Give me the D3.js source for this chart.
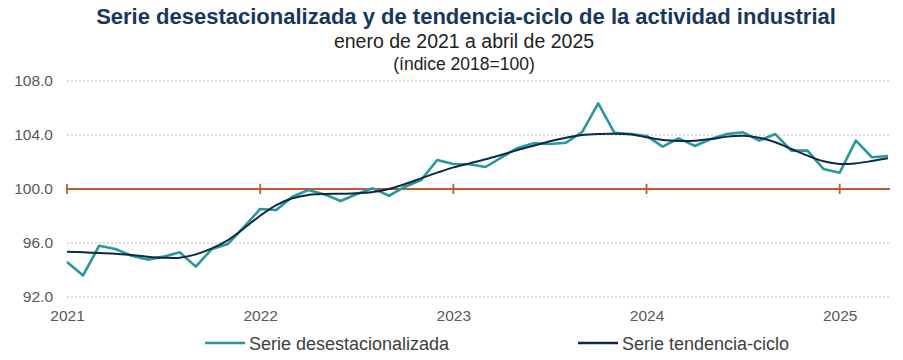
<!DOCTYPE html>
<html><head><meta charset="utf-8">
<script src="https://cdn.jsdelivr.net/npm/d3@7/dist/d3.min.js"></script>
<style>body{margin:0;background:#fff;}svg{display:block;font-family:"Liberation Sans",Arial,sans-serif;}</style>
</head><body>
<svg id="c" width="903" height="360"></svg>
<script>
const title = "Serie desestacionalizada y de tendencia-ciclo de la actividad industrial";
const subtitle = "enero de 2021 a abril de 2025";
const subtitle2 = "(índice 2018=100)";
const yearLabels = ["2021","2022","2023","2024","2025"];
const yTicks = [92, 96, 100, 104, 108];
const seriesNames = ["Serie desestacionalizada", "Serie tendencia-ciclo"];
const desest = [
 94.6, 93.6, 95.8, 95.55, 95.06, 94.77, 94.99, 95.31, 94.25, 95.56, 95.93, 97.2,
 98.52, 98.45, 99.43, 99.93, 99.6, 99.11, 99.63, 100.05, 99.5, 100.17, 100.67, 102.15,
 101.85, 101.83, 101.63, 102.35, 103.04, 103.38, 103.33, 103.43, 104.22, 106.35, 104.17, 104.07,
 103.93, 103.14, 103.75, 103.19, 103.7, 104.07, 104.2, 103.58, 104.07, 102.84, 102.84, 101.48,
 101.21, 103.58, 102.35, 102.44
];
const tendencia = [
 95.36, 95.31, 95.26, 95.21, 95.11, 94.99, 94.91, 94.91, 95.16, 95.6, 96.22, 97.09,
 98.02, 98.81, 99.31, 99.56, 99.63, 99.65, 99.68, 99.78, 100.0, 100.37, 100.79, 101.21,
 101.6, 101.9, 102.2, 102.54, 102.89, 103.21, 103.53, 103.8, 104.0, 104.08, 104.1, 104.05,
 103.83, 103.63, 103.56, 103.58, 103.7, 103.88, 103.95, 103.8, 103.46, 102.96, 102.47, 102.05,
 101.85, 101.9, 102.07, 102.27
];

const svg = d3.select("#c");
const x = d3.scaleLinear().domain([0, 51]).range([67, 888]);
const y = d3.scaleLinear().domain([92, 108]).range([297, 81]);

svg.append("text").attr("x", 466).attr("y", 24).attr("text-anchor","middle")
  .attr("font-size", 22).attr("font-weight","bold").attr("fill","#17375e").text(title);
svg.append("text").attr("x", 464).attr("y", 48).attr("text-anchor","middle")
  .attr("font-size", 19.5).attr("fill","#222").text(subtitle);
svg.append("text").attr("x", 464).attr("y", 70).attr("text-anchor","middle")
  .attr("font-size", 17.5).attr("fill","#222").text(subtitle2);

// gridlines
svg.append("g").selectAll("line").data(yTicks).join("line")
  .attr("x1", 67).attr("x2", 890)
  .attr("y1", d => y(d)).attr("y2", d => y(d))
  .attr("stroke", "#bfbfbf").attr("stroke-width", 1).attr("stroke-dasharray","2,2");

// y axis labels
const yAxis = d3.axisLeft(y).tickValues(yTicks).tickFormat(d3.format(".1f")).tickSize(0).tickPadding(0);
const yg = svg.append("g").attr("transform","translate(53,0)").call(yAxis);
yg.select(".domain").remove();
yg.selectAll("text").attr("font-size", 15.5).attr("fill","#595959").attr("font-family","Liberation Sans, Arial, sans-serif");

// x axis labels
const xAxis = d3.axisBottom(x).tickValues([0,12,24,36,48]).tickFormat((d,i)=>yearLabels[i]).tickSize(0).tickPadding(0);
const xg = svg.append("g").attr("transform","translate(0,310)").call(xAxis);
xg.select(".domain").remove();
xg.selectAll("text").attr("font-size", 15.5).attr("fill","#595959").attr("font-family","Liberation Sans, Arial, sans-serif");

// reference line at 100
svg.append("line").attr("x1", 67).attr("x2", 890).attr("y1", y(100)).attr("y2", y(100))
  .attr("stroke","#c55a28").attr("stroke-width", 2.2);
svg.append("g").selectAll("line").data([0,12,24,36,48]).join("line")
  .attr("x1", d=>x(d)).attr("x2", d=>x(d)).attr("y1", y(100)-5).attr("y2", y(100)+5)
  .attr("stroke","#c55a28").attr("stroke-width", 1.8);

// series
const lineD = d3.line().x((d,i)=>x(i)).y(d=>y(d));
const lineT = d3.line().x((d,i)=>x(i)).y(d=>y(d)).curve(d3.curveCatmullRom.alpha(0.5));
svg.append("path").datum(desest).attr("d", lineD).attr("fill","none")
  .attr("stroke","#27999a").attr("stroke-width", 2.6).attr("stroke-linejoin","round");
svg.append("path").datum(tendencia).attr("d", lineT).attr("fill","none")
  .attr("stroke","#0d2848").attr("stroke-width", 2).attr("stroke-linejoin","round");

// legend
const leg = [{n:seriesNames[0], c:"#27999a", x:205}, {n:seriesNames[1], c:"#0d2848", x:578}];
const lg = svg.append("g");
leg.forEach(l => {
  lg.append("line").attr("x1", l.x).attr("x2", l.x+40).attr("y1", 343).attr("y2", 343)
    .attr("stroke", l.c).attr("stroke-width", 2.6);
  lg.append("text").attr("x", l.x+44).attr("y", 350).attr("font-size", 18).attr("fill","#404040").text(l.n);
});
</script>
</body></html>
